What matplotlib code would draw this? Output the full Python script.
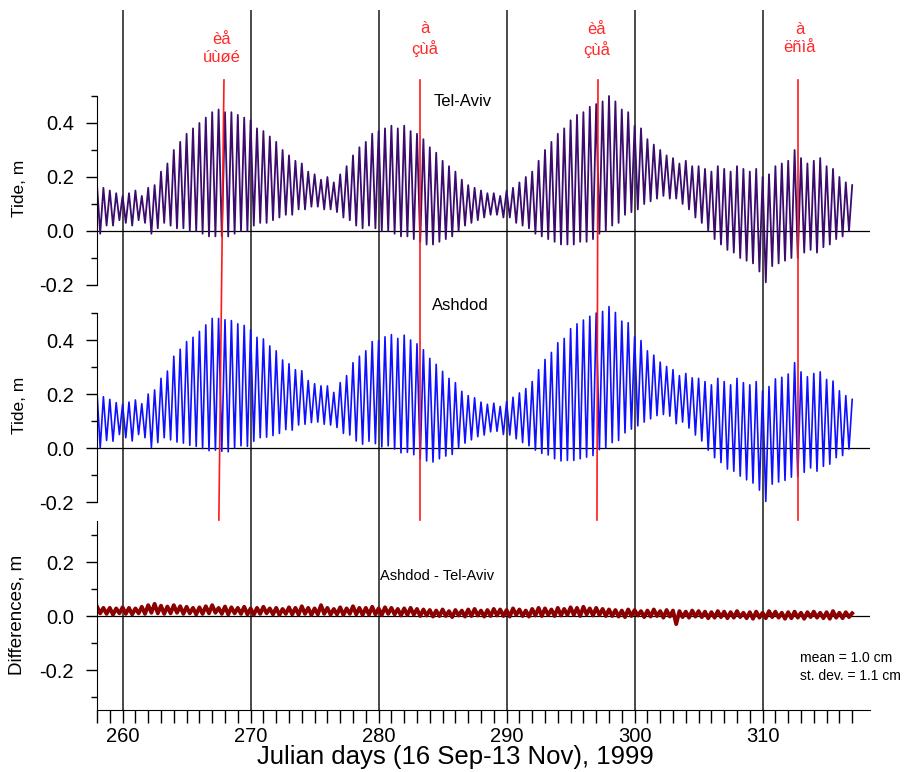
import matplotlib
matplotlib.use("Agg")
import matplotlib.pyplot as plt
import matplotlib.transforms as mtransforms
import numpy as np

plt.rcParams['font.family'] = ['Liberation Sans', 'DejaVu Sans']

# tide at Tel-Aviv, m: high, low, high, low for each day (258 .. 316)
tel_aviv = [
    0.17, -0.01, 0.16, 0.02,   # 258
    0.15, 0.02, 0.14, 0.04,    # 259
    0.13, 0.03, 0.14, 0.02,    # 260
    0.15, 0.04, 0.13, 0.03,    # 261
    0.16, -0.01, 0.17, 0.01,   # 262
    0.22, 0.03, 0.25, 0.02,    # 263
    0.30, 0.01, 0.33, 0.01,    # 264
    0.36, 0.00, 0.38, 0.00,    # 265
    0.40, -0.01, 0.42, -0.02,  # 266
    0.44, -0.02, 0.45, -0.02,  # 267
    0.44, -0.02, 0.44, -0.01,  # 268
    0.43, 0.00, 0.42, 0.00,    # 269
    0.41, 0.02, 0.38, 0.03,    # 270
    0.37, 0.03, 0.35, 0.04,    # 271
    0.33, 0.05, 0.30, 0.06,    # 272
    0.28, 0.06, 0.26, 0.08,    # 273
    0.25, 0.08, 0.22, 0.09,    # 274
    0.21, 0.09, 0.19, 0.08,    # 275
    0.20, 0.08, 0.18, 0.07,    # 276
    0.21, 0.05, 0.24, 0.04,    # 277
    0.28, 0.02, 0.31, 0.01,    # 278
    0.33, 0.02, 0.36, 0.01,    # 279
    0.37, 0.00, 0.38, 0.00,    # 280
    0.39, -0.01, 0.38, -0.02,  # 281
    0.39, -0.02, 0.37, -0.03,  # 282
    0.36, -0.04, 0.34, -0.05,  # 283
    0.31, -0.05, 0.29, -0.04,  # 284
    0.26, -0.03, 0.24, -0.02,  # 285
    0.22, 0.00, 0.19, 0.02,    # 286
    0.17, 0.03, 0.16, 0.04,    # 287
    0.15, 0.05, 0.14, 0.06,    # 288
    0.14, 0.06, 0.13, 0.05,    # 289
    0.15, 0.05, 0.16, 0.03,    # 290
    0.18, 0.02, 0.20, 0.01,    # 291
    0.22, -0.01, 0.26, -0.02,  # 292
    0.30, -0.03, 0.33, -0.04,  # 293
    0.36, -0.05, 0.38, -0.05,  # 294
    0.41, -0.05, 0.43, -0.04,  # 295
    0.44, -0.04, 0.46, -0.03,  # 296
    0.47, -0.01, 0.48, 0.00,   # 297
    0.50, 0.02, 0.48, 0.03,    # 298
    0.45, 0.06, 0.44, 0.07,    # 299
    0.39, 0.08, 0.38, 0.10,    # 300
    0.34, 0.11, 0.32, 0.12,    # 301
    0.30, 0.13, 0.28, 0.12,    # 302
    0.27, 0.12, 0.25, 0.10,    # 303
    0.26, 0.08, 0.24, 0.05,    # 304
    0.24, 0.03, 0.23, 0.00,    # 305
    0.22, -0.03, 0.24, -0.05,  # 306
    0.23, -0.07, 0.22, -0.08,  # 307
    0.24, -0.10, 0.23, -0.11,  # 308
    0.22, -0.12, 0.23, -0.15,  # 309
    0.20, -0.19, 0.21, -0.13,  # 310
    0.24, -0.12, 0.25, -0.11,  # 311
    0.26, -0.10, 0.30, -0.10,  # 312
    0.27, -0.08, 0.25, -0.07,  # 313
    0.26, -0.08, 0.27, -0.06,  # 314
    0.24, -0.05, 0.23, -0.03,  # 315
    0.20, -0.02, 0.18, 0.00,   # 316
    0.17,                      # 317
]

# Ashdod - Tel-Aviv, m, same times
diff = [
    .035, .010, .030, .008,   .030, .005, .028, .010,   .032, .008, .030, .006,
    .028, .010, .034, .008,   .040, .012, .045, .010,   .038, .008, .035, .010,
    .040, .012, .036, .008,   .034, .010, .030, .006,   .032, .008, .036, .010,
    .040, .012, .030, .008,   .035, .006, .032, .010,   .030, .008, .034, .006,
    .028, .005, .030, .008,   .034, .010, .028, .006,   .030, .004, .026, .008,
    .032, .006, .030, .005,   .036, .008, .030, .004,   .028, .006, .040, .008,
    .030, .005, .026, .006,   .032, .004, .028, .008,   .036, .006, .030, .004,
    .030, .005, .034, .006,   .028, .004, .032, .008,   .030, .006, .026, .002,
    .028, .004, .030, .005,   .026, .000, .024, .002,   .022, -.002, .020, .000,
    .024, .000, .018, -.004,  .022, .002, .020, -.002,  .024, .000, .026, .002,
    .020, -.002, .022, .000,  .026, .002, .024, .000,   .022, -.002, .028, .004,
    .024, .000, .020, -.002,  .026, .002, .030, .000,   .028, .004, .024, .000,
    .030, .002, .026, .004,   .032, .004, .030, .000,   .034, .006, .028, .002,
    .030, .004, .026, .000,   .024, .000, .022, -.002,  .020, -.004, .024, .000,
    .022, .002, .018, -.004,  .020, -.002, .024, .000,  .018, -.006, .022, -.002,
    .020, -.030, .018, -.004, .016, -.006, .020, -.002, .018, -.004, .016, -.008,
    .014, -.006, .018, -.004, .016, -.008, .014, -.006, .018, -.004, .012, -.008,
    .014, -.010, .016, -.006, .012, -.008, .018, -.004, .016, -.006, .012, -.010,
    .014, -.008, .016, -.006, .012, -.010, .014, -.004, .016, -.006, .012, -.008,
    .014, -.010, .018, -.006, .012, -.008, .014, -.004,
    .010,
]

grid_days = [260, 270, 280, 290, 300, 310]
# new / full moon marks (Hebrew dates), top and bottom x of each red line
moon_top = [267.92, 283.23, 297.14, 312.77]
moon_bot = [267.52, 283.23, 297.06, 312.77]
moon_text = ["èå\núùøé", "à\nçùå", "èå\nçùå", "à\nëñìå"]
moon_text_x = [267.77, 283.6, 297.06, 312.9]
moon_text_ypx = [48, 39, 40, 39]

t = 258.0 + 0.25 * np.arange(len(tel_aviv))
tel_aviv = np.array(tel_aviv)
diff = np.array(diff)
ashdod = tel_aviv + diff

W_PX, H_PX = 921, 772
fig = plt.figure(figsize=(W_PX / 100, H_PX / 100), dpi=100)

X0, X1 = 97, 870          # pixel edges of x axis
SCALE = 270.0             # pixels per metre
XLIM = (258.0, 258.0 + (X1 - X0) / 12.8)


def make_ax(top, bot, zero):
    ax = fig.add_axes([X0 / W_PX, 1 - bot / H_PX, (X1 - X0) / W_PX, (bot - top) / H_PX])
    ax.set_facecolor('none')
    ax.set_xlim(*XLIM)
    ax.set_ylim((zero - bot) / SCALE, (zero - top) / SCALE)
    for s in ['top', 'right']:
        ax.spines[s].set_visible(False)
    ax.tick_params(axis='y', which='major', length=8, width=1, direction='out',
                   labelsize=14.5, pad=8.5)
    ax.tick_params(axis='y', which='minor', length=4, width=1, direction='out')
    for d in grid_days:
        ax.axvline(d, color='#3c3c3c', lw=1.3, zorder=1)
    ax.axhline(0, color='black', lw=0.9, zorder=1)
    return ax


ax1 = make_ax(10, 300, 231)
ax2 = make_ax(300, 510, 448)
ax3 = make_ax(510, 710, 616)

for ax in (ax1, ax2):
    ax.spines['bottom'].set_visible(False)
    ax.xaxis.set_visible(False)
    ax.spines['left'].set_bounds(-0.2, 0.5)
    ax.set_yticks([-0.2, 0.0, 0.2, 0.4])
    ax.set_yticks([-0.1, 0.1, 0.3, 0.5], minor=True)
    ax.set_yticklabels(['-0.2', '0.0', '0.2', '0.4'])

ax3.spines['left'].set_bounds(-0.348, 0.352)
ax3.set_yticks([-0.2, 0.0, 0.2])
ax3.set_yticks([-0.3, -0.1, 0.1, 0.3], minor=True)
ax3.set_yticklabels(['-0.2', '0.0', '0.2'])
ax3.set_xticks(grid_days)
ax3.set_xticks(np.arange(258, 318), minor=True)
ax3.tick_params(axis='x', which='both', length=9, width=1, direction='out',
                labelsize=14.5, pad=3)

ax1.plot(t, tel_aviv, color='#3b0b6e', lw=1.3, zorder=2)
ax2.plot(t, ashdod, color='#1010ff', lw=1.2, zorder=2)
ax3.plot(t, diff, color='#8b0000', lw=2.8, zorder=2)

# red moon lines across the two tide panels
for xt, xb in zip(moon_top, moon_bot):
    ax2.plot([xt, xb], [(448 - 80) / SCALE, (448 - 520) / SCALE], color='#ff1a1a',
             lw=1.2, clip_on=False, zorder=5)

trans = mtransforms.blended_transform_factory(ax1.transData, fig.transFigure)
for x, ypx, s in zip(moon_text_x, moon_text_ypx, moon_text):
    fig.text(x, 1 - ypx / H_PX, s, transform=trans, color='#ff2a2a', fontsize=12,
             ha='center', va='center', linespacing=1.25)

ax1.text(286.6, (231 - 101) / SCALE, 'Tel-Aviv', fontsize=12, ha='center', va='center')
ax2.text(286.4, (448 - 305) / SCALE, 'Ashdod', fontsize=12, ha='center', va='center')
ax3.text(284.6, (616 - 576) / SCALE, 'Ashdod - Tel-Aviv', fontsize=10.5,
         ha='center', va='center')
ax3.text(312.9, (616 - 658) / SCALE, 'mean = 1.0 cm', fontsize=10, ha='left', va='center')
ax3.text(312.9, (616 - 676) / SCALE, 'st. dev. = 1.1 cm', fontsize=10, ha='left', va='center')

fig.text(19 / W_PX, 1 - 188 / H_PX, 'Tide, m', rotation=90, fontsize=12.5,
         ha='center', va='center')
fig.text(19 / W_PX, 1 - 405 / H_PX, 'Tide, m', rotation=90, fontsize=12.5,
         ha='center', va='center')
fig.text(17 / W_PX, 1 - 615 / H_PX, 'Differences, m', rotation=90, fontsize=13.5,
         ha='center', va='center')
fig.text(455 / W_PX, 1 - 757 / H_PX, 'Julian days (16 Sep-13 Nov), 1999',
         fontsize=18.5, ha='center', va='center')

fig.savefig('out.png', dpi=100)
